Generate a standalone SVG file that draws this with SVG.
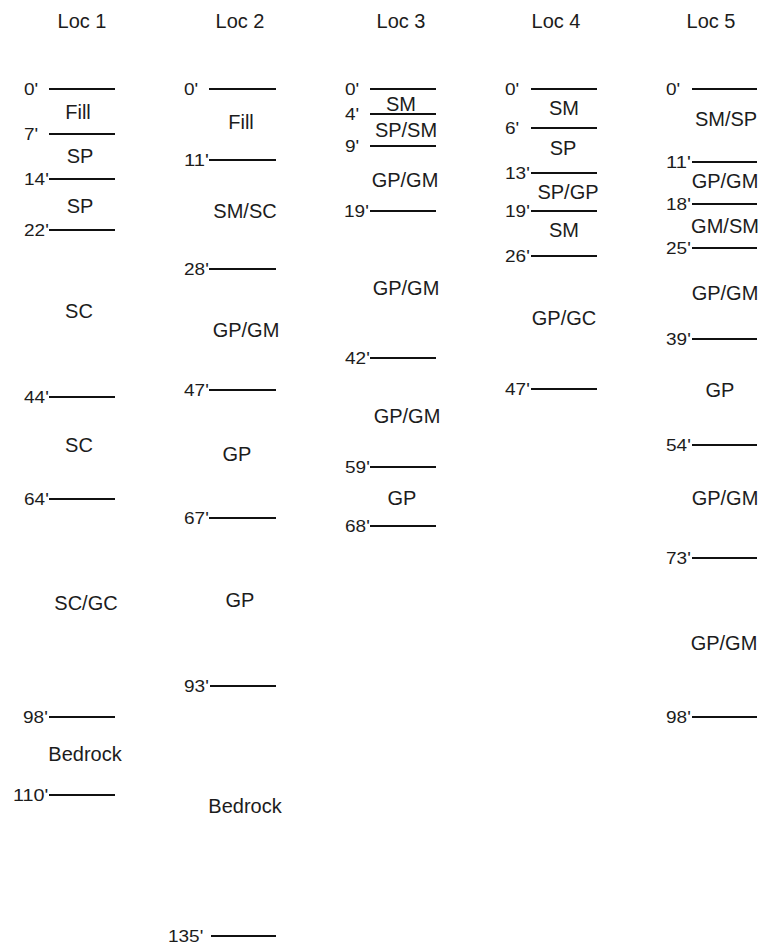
<svg xmlns="http://www.w3.org/2000/svg" width="766" height="947" viewBox="0 0 766 947">
<style>
text{font-family:"Liberation Sans",Arial,sans-serif;fill:#1c1c1c}
.h{font-size:20px;text-anchor:middle}
.l{font-size:20px;text-anchor:middle}
.d{font-size:16.5px}
line{stroke:#111;stroke-width:2}
</style>
<rect width="766" height="947" fill="#fff"/>
<g id="loc1">
<text class="h" x="82" y="28">Loc 1</text>
<text class="l" x="78" y="119">Fill</text>
<text class="l" x="80" y="163">SP</text>
<text class="l" x="80" y="213">SP</text>
<text class="l" x="79" y="318">SC</text>
<text class="l" x="79" y="452">SC</text>
<text class="l" x="86" y="610">SC/GC</text>
<text class="l" x="85" y="761">Bedrock</text>
<text class="d" x="24" y="95" textLength="14.2" lengthAdjust="spacingAndGlyphs">0'</text>
<text class="d" x="24" y="140" textLength="14.2" lengthAdjust="spacingAndGlyphs">7'</text>
<text class="d" x="24" y="185" textLength="24.8" lengthAdjust="spacingAndGlyphs">14'</text>
<text class="d" x="24" y="236" textLength="24.8" lengthAdjust="spacingAndGlyphs">22'</text>
<text class="d" x="24" y="403" textLength="24.8" lengthAdjust="spacingAndGlyphs">44'</text>
<text class="d" x="24" y="505" textLength="24.8" lengthAdjust="spacingAndGlyphs">64'</text>
<text class="d" x="23" y="723" textLength="24.8" lengthAdjust="spacingAndGlyphs">98'</text>
<text class="d" x="13" y="801" textLength="35.3" lengthAdjust="spacingAndGlyphs">110'</text>
<line x1="49" y1="89" x2="115" y2="89"/>
<line x1="49" y1="134" x2="115" y2="134"/>
<line x1="49" y1="179" x2="115" y2="179"/>
<line x1="49" y1="230" x2="115" y2="230"/>
<line x1="49" y1="397" x2="115" y2="397"/>
<line x1="49" y1="499" x2="115" y2="499"/>
<line x1="49" y1="717" x2="115" y2="717"/>
<line x1="49" y1="795" x2="115" y2="795"/>
</g>
<g id="loc2">
<text class="h" x="240" y="28">Loc 2</text>
<text class="l" x="241" y="129">Fill</text>
<text class="l" x="245" y="218">SM/SC</text>
<text class="l" x="246" y="337">GP/GM</text>
<text class="l" x="237" y="461">GP</text>
<text class="l" x="240" y="607">GP</text>
<text class="l" x="245" y="813">Bedrock</text>
<text class="d" x="184" y="95" textLength="14.2" lengthAdjust="spacingAndGlyphs">0'</text>
<text class="d" x="184" y="166" textLength="24.8" lengthAdjust="spacingAndGlyphs">11'</text>
<text class="d" x="184" y="275" textLength="24.8" lengthAdjust="spacingAndGlyphs">28'</text>
<text class="d" x="184" y="396" textLength="24.8" lengthAdjust="spacingAndGlyphs">47'</text>
<text class="d" x="184" y="524" textLength="24.8" lengthAdjust="spacingAndGlyphs">67'</text>
<text class="d" x="184" y="692" textLength="24.8" lengthAdjust="spacingAndGlyphs">93'</text>
<text class="d" x="168" y="942" textLength="35.3" lengthAdjust="spacingAndGlyphs">135'</text>
<line x1="209" y1="89" x2="276" y2="89"/>
<line x1="209" y1="160" x2="276" y2="160"/>
<line x1="209" y1="269" x2="276" y2="269"/>
<line x1="209" y1="390" x2="276" y2="390"/>
<line x1="209" y1="518" x2="276" y2="518"/>
<line x1="210" y1="686" x2="276" y2="686"/>
<line x1="211" y1="936" x2="276" y2="936"/>
</g>
<g id="loc3">
<text class="h" x="401" y="28">Loc 3</text>
<text class="l" x="401" y="111">SM</text>
<text class="l" x="406" y="137">SP/SM</text>
<text class="l" x="405" y="187">GP/GM</text>
<text class="l" x="406" y="295">GP/GM</text>
<text class="l" x="407" y="423">GP/GM</text>
<text class="l" x="402" y="505">GP</text>
<text class="d" x="345" y="95" textLength="14.2" lengthAdjust="spacingAndGlyphs">0'</text>
<text class="d" x="345" y="120" textLength="14.2" lengthAdjust="spacingAndGlyphs">4'</text>
<text class="d" x="345" y="152" textLength="14.2" lengthAdjust="spacingAndGlyphs">9'</text>
<text class="d" x="344" y="217" textLength="24.8" lengthAdjust="spacingAndGlyphs">19'</text>
<text class="d" x="345" y="364" textLength="24.8" lengthAdjust="spacingAndGlyphs">42'</text>
<text class="d" x="345" y="473" textLength="24.8" lengthAdjust="spacingAndGlyphs">59'</text>
<text class="d" x="345" y="532" textLength="24.8" lengthAdjust="spacingAndGlyphs">68'</text>
<line x1="370" y1="89" x2="436" y2="89"/>
<line x1="370" y1="114" x2="436" y2="114"/>
<line x1="370" y1="146" x2="436" y2="146"/>
<line x1="370" y1="211" x2="436" y2="211"/>
<line x1="370" y1="358" x2="436" y2="358"/>
<line x1="370" y1="467" x2="436" y2="467"/>
<line x1="370" y1="526" x2="436" y2="526"/>
</g>
<g id="loc4">
<text class="h" x="556" y="28">Loc 4</text>
<text class="l" x="564" y="115">SM</text>
<text class="l" x="563" y="155">SP</text>
<text class="l" x="568" y="199">SP/GP</text>
<text class="l" x="564" y="237">SM</text>
<text class="l" x="564" y="325">GP/GC</text>
<text class="d" x="505" y="95" textLength="14.2" lengthAdjust="spacingAndGlyphs">0'</text>
<text class="d" x="505" y="134" textLength="14.2" lengthAdjust="spacingAndGlyphs">6'</text>
<text class="d" x="505" y="179" textLength="24.8" lengthAdjust="spacingAndGlyphs">13'</text>
<text class="d" x="505" y="217" textLength="24.8" lengthAdjust="spacingAndGlyphs">19'</text>
<text class="d" x="505" y="262" textLength="24.8" lengthAdjust="spacingAndGlyphs">26'</text>
<text class="d" x="505" y="395" textLength="24.8" lengthAdjust="spacingAndGlyphs">47'</text>
<line x1="531" y1="89" x2="597" y2="89"/>
<line x1="531" y1="128" x2="597" y2="128"/>
<line x1="531" y1="173" x2="597" y2="173"/>
<line x1="531" y1="211" x2="597" y2="211"/>
<line x1="531" y1="256" x2="597" y2="256"/>
<line x1="531" y1="389" x2="597" y2="389"/>
</g>
<g id="loc5">
<text class="h" x="711" y="28">Loc 5</text>
<text class="l" x="726" y="126">SM/SP</text>
<text class="l" x="725" y="188">GP/GM</text>
<text class="l" x="725" y="233">GM/SM</text>
<text class="l" x="725" y="300">GP/GM</text>
<text class="l" x="720" y="397">GP</text>
<text class="l" x="725" y="505">GP/GM</text>
<text class="l" x="724" y="650">GP/GM</text>
<text class="d" x="666" y="95" textLength="14.2" lengthAdjust="spacingAndGlyphs">0'</text>
<text class="d" x="666" y="168" textLength="24.8" lengthAdjust="spacingAndGlyphs">11'</text>
<text class="d" x="666" y="210" textLength="24.8" lengthAdjust="spacingAndGlyphs">18'</text>
<text class="d" x="666" y="254" textLength="24.8" lengthAdjust="spacingAndGlyphs">25'</text>
<text class="d" x="666" y="345" textLength="24.8" lengthAdjust="spacingAndGlyphs">39'</text>
<text class="d" x="666" y="451" textLength="24.8" lengthAdjust="spacingAndGlyphs">54'</text>
<text class="d" x="666" y="564" textLength="24.8" lengthAdjust="spacingAndGlyphs">73'</text>
<text class="d" x="666" y="723" textLength="24.8" lengthAdjust="spacingAndGlyphs">98'</text>
<line x1="692" y1="89" x2="757" y2="89"/>
<line x1="692" y1="162" x2="757" y2="162"/>
<line x1="692" y1="204" x2="757" y2="204"/>
<line x1="692" y1="248" x2="757" y2="248"/>
<line x1="692" y1="339" x2="757" y2="339"/>
<line x1="692" y1="445" x2="757" y2="445"/>
<line x1="692" y1="558" x2="757" y2="558"/>
<line x1="692" y1="717" x2="757" y2="717"/>
</g>
</svg>
